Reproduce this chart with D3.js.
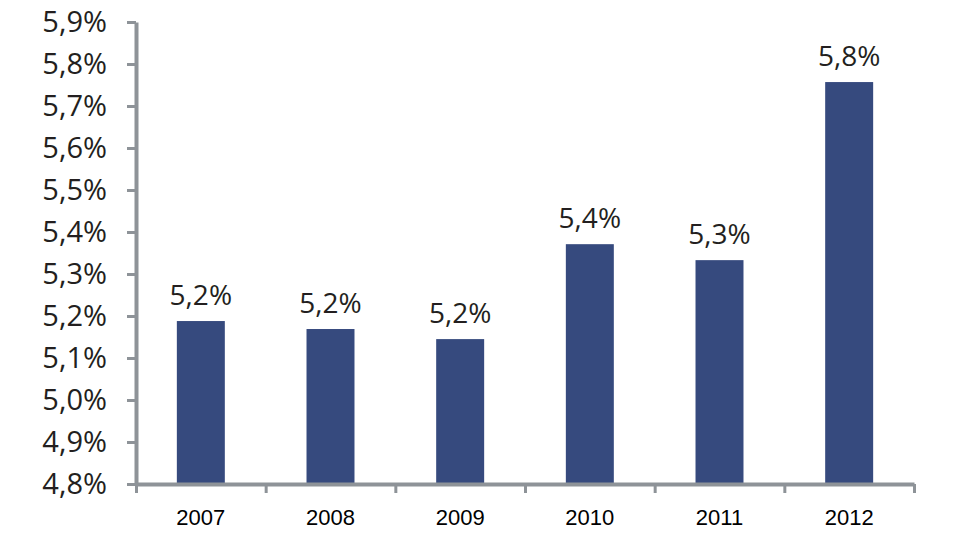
<!DOCTYPE html>
<html>
<head>
<meta charset="utf-8">
<script src="https://cdn.jsdelivr.net/npm/d3@7"></script>
<style>
  body { margin: 0; background: #fff; }
  .axis path, .axis line { stroke: #8e9398; }
  .axis-y text { font-family: "Open Sans", sans-serif; font-size: 29px; fill: #231f20; }
  .value { font-family: "Open Sans", sans-serif; font-size: 28px; fill: #231f20; }
  .year { font-family: "Liberation Sans", Arial, sans-serif; font-size: 22px; fill: #000; }
</style>
</head>
<body>
<svg id="chart" width="969" height="556"></svg>
<script>
"use strict";

var years = ["2007", "2008", "2009", "2010", "2011", "2012"];
var values = [5.188, 5.169, 5.145, 5.371, 5.333, 5.757];
var valueLabels = ["5,2%", "5,2%", "5,2%", "5,4%", "5,3%", "5,8%"];
var yTicks = [4.8, 4.9, 5.0, 5.1, 5.2, 5.3, 5.4, 5.5, 5.6, 5.7, 5.8, 5.9];

var svg = d3.select("#chart");
var plotLeft = 136, plotRight = 914, plotTop = 22, plotBottom = 484;

var x = d3.scaleBand().domain(years).range([plotLeft, plotRight])
    .paddingInner(0.63).paddingOuter(0.315);
var y = d3.scaleLinear().domain([4.8, 5.9]).range([plotBottom, plotTop]);
var xEdge = d3.scaleLinear().domain([0, years.length]).range([plotLeft, plotRight]);

var fmt = function (d) { return d3.format(".1f")(d).replace(".", ",") + "%"; };

// bars
svg.append("g").selectAll("rect")
    .data(values)
    .enter().append("rect")
    .attr("x", function (d, i) { return x(years[i]); })
    .attr("y", function (d) { return y(d); })
    .attr("width", x.bandwidth())
    .attr("height", function (d) { return y(4.8) - y(d); })
    .attr("fill", "#364a7e");

// value labels
svg.append("g").selectAll("text")
    .data(values)
    .enter().append("text")
    .attr("class", "value")
    .attr("x", function (d, i) { return x(years[i]) + x.bandwidth() / 2; })
    .attr("y", function (d) { return y(d) - 16; })
    .attr("text-anchor", "middle")
    .text(function (d, i) { return valueLabels[i]; });

// y axis
var gY = svg.append("g")
    .attr("class", "axis axis-y")
    .attr("transform", "translate(" + plotLeft + ",0)")
    .call(d3.axisLeft(y).tickValues(yTicks).tickFormat(fmt)
        .tickSize(9).tickSizeOuter(0).tickPadding(20));
gY.select(".domain").attr("stroke-width", 4);
gY.selectAll(".tick line").attr("stroke-width", 3);

// x axis (ticks on category edges)
var gX = svg.append("g")
    .attr("class", "axis axis-x")
    .attr("transform", "translate(0," + plotBottom + ")")
    .call(d3.axisBottom(xEdge).tickValues(d3.range(years.length + 1))
        .tickFormat("").tickSize(9).tickSizeOuter(0));
gX.select(".domain").attr("stroke-width", 4);
gX.selectAll(".tick line").attr("stroke-width", 3);

// year labels
svg.append("g").selectAll("text")
    .data(years)
    .enter().append("text")
    .attr("class", "year")
    .attr("x", function (d) { return x(d) + x.bandwidth() / 2; })
    .attr("y", plotBottom + 41)
    .attr("text-anchor", "middle")
    .text(function (d) { return d; });
</script>
</body>
</html>
